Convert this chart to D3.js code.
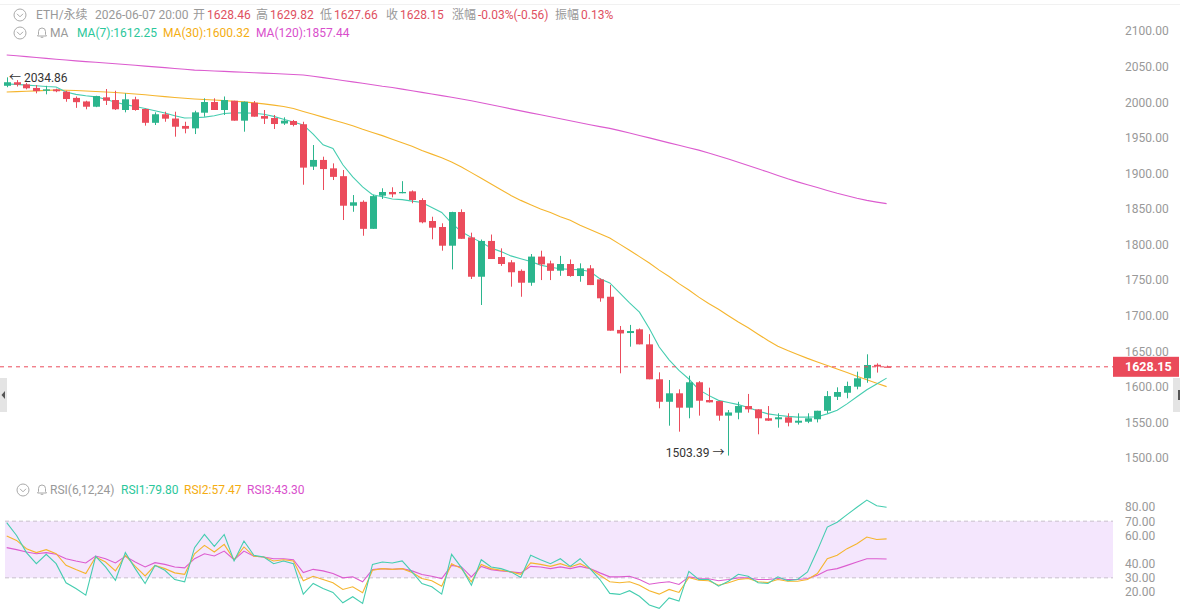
<!DOCTYPE html>
<html><head><meta charset="utf-8">
<script src="https://cdn.jsdelivr.net/npm/d3@7/dist/d3.min.js"></script>
<style>
body{margin:0;background:#fff;}
svg{display:block;font-family:Roboto,"Noto Sans CJK SC",sans-serif;}
</style>
</head><body>
<svg id="chart" width="1180" height="613"></svg>
<script>
// ---- data ----
const opens = [2023,2028,2025,2020,2016,2018,2014.7,2006,2001,1993.6,2006.8,2003,1989,2004,1990.4,1971,1983,1977,1966.6,1963.2,1985.2,2000.2,1989,2002,1974,1999.2,1980.5,1977.7,1970,1973.5,1969,1909.4,1918.8,1907,1896,1854.5,1860,1822,1868.6,1873.8,1872,1874.7,1862.5,1833,1824.6,1798.3,1845.6,1810,1754.7,1805,1782.4,1775,1763,1746.3,1783,1773.5,1763.2,1772.6,1755.7,1766.5,1751,1726.6,1680,1675.6,1680.8,1659.7,1610.6,1579,1590.9,1570.7,1606.4,1581.5,1580,1559.5,1563.7,1573,1568.4,1555.8,1554.4,1557.2,1549.6,1551,1554.4,1566.4,1586,1591.7,1600.2,1612,1631,1628.46];
const highs = [2034.86,2031,2027,2024,2023,2019,2016,2008,2002,2009,2018.5,2016,2012.4,2007.6,1991,1985.7,1986.6,1986.6,1972.5,1988,2005.4,2005.4,2008,2002,2001,2001.6,1989,1982,1978.7,1975,1972.5,1939.8,1923.4,1914,1904.7,1869.5,1862,1870,1879,1880.4,1889,1876,1865,1839,1829.8,1846,1849.4,1816.6,1807,1814,1794.6,1778,1765,1786.6,1791.3,1777.3,1784,1779,1773.5,1771,1752.5,1743,1685.5,1687,1682,1674,1620.4,1609.6,1596.5,1615.6,1608,1598.8,1580.5,1567.4,1579,1590,1568.4,1573,1562.8,1562.8,1562.8,1562.8,1566.4,1594,1599.3,1607.3,1621.3,1645.7,1633,1629.82];
const lows = [2021,2022,2018,2012.4,2011,2014,2000.6,1992,1990,1993,1996,1989,1985.7,1988,1967,1967.9,1972.5,1951.5,1956.2,1955.2,1979.6,1989,1982,1974,1958.5,1979.6,1969.3,1962.3,1968,1966,1884,1904.7,1876.6,1890.6,1834.4,1846,1812.3,1822,1864,1866.3,1872,1858,1829.8,1807.3,1791.3,1765,1808,1751.5,1715,1779.6,1770,1740.7,1726.6,1742,1750,1750,1756,1754.7,1747.7,1743,1719.6,1678.9,1619,1656.4,1659.7,1610.6,1569.8,1545.4,1537,1555.8,1559.5,1578,1552.4,1503.39,1554.4,1563.7,1533.3,1552,1542.6,1544.5,1547,1549,1550,1562.8,1581.5,1583.9,1596.5,1605.8,1620,1627.66];
const closes = [2028,2024.6,2019.5,2015.6,2018,2015.3,2004.4,2000,1993.6,2008.6,2002,1990,2004,1989,1971,1983,1976.8,1965.5,1962.7,1985.7,2000.2,1989,2003,1974,2000.6,1979.6,1976.8,1969.3,1974,1968,1908,1918.8,1906,1895,1854.5,1859.3,1822,1868,1873.8,1870.5,1873.8,1862.5,1831.2,1823.6,1798.3,1845.6,1808,1754.7,1805,1779.6,1772.6,1761,1746.3,1783,1772,1763,1772.6,1755.7,1766.5,1743,1724.4,1678.9,1675,1678.4,1659.7,1610.6,1579,1590.9,1570.7,1606.4,1580.5,1578.2,1559.5,1564,1573,1568.4,1555.8,1552.4,1557.2,1549.6,1552.4,1555.8,1566.4,1587,1592.7,1601.2,1612,1630.7,1628.5,1628.15];

const ma7 = [2025.6,2025,2024,2023,2022,2021.4,2014.3,2011,2009,2007.5,2004,2000,1996.5,1994,1991,1988,1984.8,1981,1977.7,1978,1979,1981,1984,1985,1985,1984.5,1983,1980,1976,1972,1968,1955,1940,1935,1912,1895,1881,1870,1867,1864,1863,1861,1859,1852,1845,1830,1818,1810,1803,1795,1790,1784,1780,1776,1771,1768,1766,1765,1764.5,1762,1752,1746,1732,1718,1705,1682,1656,1638,1623,1611,1596,1588,1581,1578,1575,1571,1566,1562,1560,1558.5,1557.5,1557.5,1558,1562,1567,1576,1586,1596,1604,1612.25];
const ma30 = [2014.3,2014.8,2015.3,2015.8,2016.5,2017,2016.8,2016.3,2015.6,2015,2014.3,2013.5,2012.6,2011.5,2010.4,2009,2007.8,2006.6,2005.5,2004.5,2003.7,2003,2002.2,2001.3,2000.4,1999,1997.6,1995.8,1993.8,1991,1987,1983,1979,1975,1971,1967,1962,1957.5,1953,1948,1943,1938,1932,1927,1922,1916,1909,1901,1893,1885,1877,1869,1862,1856,1850,1845,1839,1834,1827,1821,1815,1809,1800.5,1792,1783,1774,1764,1755,1745,1736,1726,1717,1709,1700,1691,1683,1674,1665,1657,1651,1645.5,1640,1635,1630,1625,1620,1615,1610,1605,1600.32];
const ma120 = [2066.3,2065.2,2064,2062.8,2061.6,2060.4,2059.2,2058,2057,2056,2055,2054,2053,2051.8,2050.7,2049.6,2048.5,2047.3,2046.2,2045,2044.4,2043.8,2043.2,2042.6,2042,2041.4,2040.8,2040.2,2039.5,2038.8,2038.2,2036.5,2034.5,2032.5,2030.5,2028.5,2026.5,2024.5,2022.3,2020.5,2018.3,2016,2013.8,2011.5,2009.2,2006.8,2004.5,2002,1999.2,1996.3,1993.5,1990.6,1987.8,1985,1982.2,1979.4,1976.6,1973.8,1971,1968.2,1965.6,1963.2,1960,1956.6,1953.2,1949.8,1946.3,1942.8,1939.4,1936,1932.6,1928.6,1924.4,1920,1915.6,1911,1906.4,1901.8,1897,1892.3,1888,1884,1880,1876,1872,1868.5,1865,1862,1859.6,1857.44];

const rsi1 = [69,59.9,47.8,40,46.6,40,26.5,22.5,17.8,45.2,37.7,28.3,47.8,36.5,26,38.8,35.3,28.8,27.2,51.3,60.6,52.2,60.6,41.9,56,45.9,44.7,40,41.9,40,18.5,26,22.5,19.7,12.4,16.7,12,39.5,41.2,40.5,41.9,34.2,26,23.7,18.5,46.6,37.2,24.8,42.8,37.7,36.5,34.2,30.2,45.9,42.8,40,43.5,38.1,43.5,36.5,28.8,19,18.3,20.9,17,10.8,8.5,15.8,13.6,34.6,28.8,28.8,24.1,27.6,32.5,31.1,26.5,26,30.7,27.9,28.8,34.2,49.4,65.8,69.3,74.6,79.8,84.9,80.9,79.8];
const rsi2 = [59.5,56.4,50.6,47.8,49.9,47,38.8,35.8,33,44.7,41.2,34.9,45.9,38.1,31.4,38.8,36.5,33.5,32.5,47,52.9,48.2,53.6,42.8,51.8,45.2,44.7,41.9,42.8,41.9,27.9,31.1,28.8,26.5,21.8,23.7,19.5,35.3,36.5,36,36.5,33.7,29.5,27.9,24.1,40,36.5,27.2,39.5,36.5,35.3,34.2,32.5,40.5,39.5,38.1,40,37.7,40,36.5,31.8,27.2,26.5,27.2,24.8,20.9,18.5,21.8,19.7,30.2,28.3,27.9,24.8,26.5,28.8,29.5,27.2,26.7,28.8,27.6,27.6,28.8,33,43.5,45.9,50.6,54.1,58.8,57.1,57.47];
const rsi3 = [51.3,49.9,48.2,47,47.8,46.6,43.5,41.9,40.5,45.4,43.5,40.5,45.2,41.2,37.7,40.7,39.5,37.7,37,43.5,47,45.4,48.9,42.8,48.9,45.2,44.7,43.5,43.5,42.8,33.7,36,34.9,33,30,30.7,27.2,35.8,36.5,36,36.5,34.9,32.3,31.1,29.5,38.8,37.7,30.7,38.1,35.8,34.9,34.2,33.5,38.1,37.7,36.5,37.7,36.5,38.1,36.5,33.5,30.7,30.7,31.1,28.8,25.5,26.5,27.2,25.3,30.7,29.5,29.3,27.9,28.8,30,30,28.8,28.8,29.5,28.8,28.8,29.5,31.8,35.3,36.5,38.8,41.2,43.5,43.5,43.3];

const priceTicks = [1500,1550,1600,1650,1700,1750,1800,1850,1900,1950,2000,2050,2100];
const rsiTicks = [20,30,40,60,70,80];
const lastPrice = 1628.15;
const highMark = {i:0, v:2034.86};
const lowMark = {i:73, v:1503.39};

// ---- colours ----
const UP = "#2bb58d", DOWN = "#eb4c5c";
const C7 = "#45cdb0", C30 = "#f5b52e", C120 = "#dc5ccf";
const GRAY = "#999";

const svg = d3.select("#chart");
const n = closes.length;
const x = d3.scaleLinear().domain([0, n-1]).range([6.7, 886.6]);
const y = d3.scaleLinear().domain([1500, 2100]).range([458, 31]);
const yr = d3.scaleLinear().domain([20, 80]).range([592, 507]);
const plotRight = 1113;

// faint top line and handles
svg.append("line").attr("x1",0).attr("x2",1180).attr("y1",4.5).attr("y2",4.5).attr("stroke","#f1f1f1");
svg.append("rect").attr("x",0).attr("y",378).attr("width",7).attr("height",34).attr("fill","#e4e4e4");
svg.append("path").attr("d","M1.5,395 L5,391 L5,399 Z").attr("fill","#555");
svg.append("rect").attr("x",1173).attr("y",378).attr("width",7).attr("height",34).attr("fill","#e4e4e4");
svg.append("rect").attr("x",1178).attr("y",390).attr("width",2).attr("height",10).attr("fill","#555");

// ---- header icons ----
function chevIcon(cx, cy){
  const g = svg.append("g");
  g.append("circle").attr("cx",cx).attr("cy",cy).attr("r",6).attr("fill","none").attr("stroke","#aaa").attr("stroke-width",1);
  g.append("path").attr("d",`M${cx-3},${cy-1.2} L${cx},${cy+1.8} L${cx+3},${cy-1.2}`).attr("fill","none").attr("stroke","#aaa").attr("stroke-width",1);
}
function bellIcon(cx, cy){
  svg.append("path").attr("d",`M${cx-4.5},${cy+3} L${cx+4.5},${cy+3} L${cx+3.5},${cy+1.5} L${cx+3.5},${cy-1.5} Q${cx+3.5},${cy-5} ${cx},${cy-5} Q${cx-3.5},${cy-5} ${cx-3.5},${cy-1.5} L${cx-3.5},${cy+1.5} Z M${cx-1.3},${cy+4.3} L${cx+1.3},${cy+4.3}`)
    .attr("fill","none").attr("stroke","#aaa").attr("stroke-width",1);
}
chevIcon(20,15); chevIcon(20,33); bellIcon(42,33); chevIcon(23,490); bellIcon(42,490);

function txt(xp, yp, s, col, opts={}){
  const t = svg.append("text").attr("x",xp).attr("y",yp).text(s).attr("fill",col)
    .attr("font-size",opts.size||12).attr("dominant-baseline","central");
  if(opts.weight) t.attr("font-weight",opts.weight);
  if(opts.anchor) t.attr("text-anchor",opts.anchor);
  return t;
}
// row 1
const RED = "#e0505f";
const row1 = [["ETH/永续",36,GRAY],["2026-06-07 20:00",95,GRAY],["开",193,GRAY],["1628.46",207,RED],["高",256,GRAY],["1629.82",270,RED],
  ["低",320,GRAY],["1627.66",334,RED],["收",386,GRAY],["1628.15",400,RED],["涨幅",452,GRAY],["-0.03%(-0.56)",478,RED],["振幅",555,GRAY],["0.13%",581,RED]];
row1.forEach(r=>txt(r[1],15,r[0],r[2]));
// row 2
txt(50,33,"MA",GRAY);
txt(77,33,"MA(7):"+ma7[n-1].toFixed(2),"#2bc79b");
txt(163,33,"MA(30):"+ma30[n-1].toFixed(2),"#f4ad12");
txt(256,33,"MA(120):"+ma120[n-1].toFixed(2),"#d94fcc");
// RSI header
txt(50,490,"RSI(6,12,24)",GRAY);
txt(121,490,"RSI1:"+rsi1[n-1].toFixed(2),"#2bc79b");
txt(184,490,"RSI2:"+rsi2[n-1].toFixed(2),"#f4ad12");
txt(247,490,"RSI3:"+rsi3[n-1].toFixed(2),"#d94fcc");

// ---- price axis ----
const pAxis = d3.axisRight(y).tickValues(priceTicks).tickSize(0).tickPadding(0).tickFormat(d3.format(".2f"));
const pa = svg.append("g").attr("transform","translate(1125,0)").call(pAxis);
pa.select(".domain").remove();
pa.selectAll("text").attr("fill",GRAY).attr("font-size",12).attr("font-family","Roboto,sans-serif");

// ---- RSI band ----
svg.append("rect").attr("x",5).attr("width",plotRight-5).attr("y",yr(70)).attr("height",yr(30)-yr(70)).attr("fill","#f4e6fd");
[70,30].forEach(v=>svg.append("line").attr("x1",5).attr("x2",plotRight).attr("y1",yr(v)).attr("y2",yr(v))
  .attr("stroke","#c8c0cc").attr("stroke-dasharray","4,3"));
const rAxis = d3.axisRight(yr).tickValues(rsiTicks).tickSize(0).tickPadding(0).tickFormat(d3.format(".2f"));
const ra = svg.append("g").attr("transform","translate(1125,0)").call(rAxis);
ra.select(".domain").remove();
ra.selectAll("text").attr("fill",GRAY).attr("font-size",12).attr("font-family","Roboto,sans-serif");

// ---- MA lines ----
const idx = d3.range(n);
const lineP = arr => d3.line().x(i=>x(i)).y(i=>y(arr[i]))(idx);
[[ma120,C120],[ma30,C30],[ma7,C7]].forEach(([a,c])=>svg.append("path").attr("d",lineP(a)).attr("fill","none").attr("stroke",c).attr("stroke-width",1.1));

// ---- candles ----
const bw = 7;
const cg = svg.append("g");
idx.forEach(i=>{
  const up = closes[i] >= opens[i];
  const col = up ? UP : DOWN;
  cg.append("line").attr("x1",Math.round(x(i))+0.5).attr("x2",Math.round(x(i))+0.5)
    .attr("y1",y(highs[i])).attr("y2",y(lows[i])).attr("stroke",col).attr("stroke-width",1);
  const top = y(Math.max(opens[i],closes[i])), bot = y(Math.min(opens[i],closes[i]));
  cg.append("rect").attr("x",Math.round(x(i))+0.5-bw/2).attr("y",top).attr("width",bw).attr("height",Math.max(1.2,bot-top)).attr("fill",col);
});

// ---- last price line & tag ----
svg.append("line").attr("x1",0).attr("x2",plotRight).attr("y1",y(lastPrice)).attr("y2",y(lastPrice))
  .attr("stroke",DOWN).attr("stroke-dasharray","4,4").attr("stroke-width",1);
svg.append("rect").attr("x",plotRight).attr("y",y(lastPrice)-10).attr("width",66).attr("height",20).attr("fill","#ea4a5a");
txt(1125,y(lastPrice),lastPrice.toFixed(2),"#fff",{weight:"bold",size:12.5});

// ---- high/low annotations ----
txt(9,y(highMark.v)+1,"← "+highMark.v.toFixed(2),"#333");
txt(x(lowMark.i)-4,y(lowMark.v)-3,lowMark.v.toFixed(2)+" →","#333",{anchor:"end"});

// ---- RSI lines ----
const lineR = arr => d3.line().x(i=>x(i)).y(i=>yr(arr[i]))(idx);
[[rsi3,C120],[rsi2,C30],[rsi1,C7]].forEach(([a,c])=>svg.append("path").attr("d",lineR(a)).attr("fill","none").attr("stroke",c).attr("stroke-width",1.1));
</script>
</body></html>
